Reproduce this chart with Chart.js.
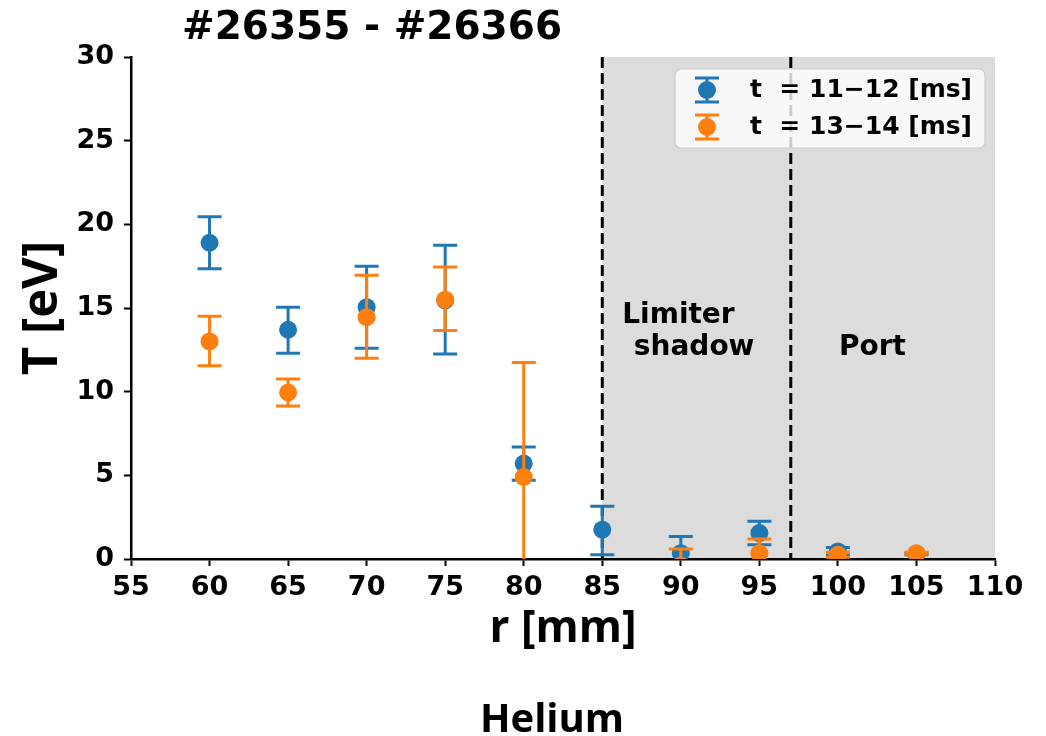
<!DOCTYPE html>
<html>
<head>
<meta charset="utf-8">
<script src="https://cdn.jsdelivr.net/npm/chart.js@4.4.0/dist/chart.umd.min.js"></script>
<style>
    body { margin: 0; background: #fff; }
    #wrap { width: 1046px; height: 736px; position: relative; }
</style>
</head>
<body>
<div id="wrap"><canvas id="chart-area1"></canvas></div>
<script>
// probe positions [mm]
var radius = [60, 65, 70, 75, 80, 85, 90, 95, 100, 105];

// t = 11-12 ms : temperature and error bar bounds [eV]
var tempEarly = [18.9, 13.7, 15.05, 15.45, 5.7, 1.75, 0.35, 1.55, 0.45, 0.3];
var earlyLow  = [17.35, 12.3, 12.6, 12.25, 4.7, 0.25, -0.65, 0.85, 0.22, 0.25];
var earlyHigh = [20.45, 15.05, 17.5, 18.75, 6.7, 3.15, 1.35, 2.25, 0.68, 0.35];

// t = 13-14 ms (no point at 85 mm)
var tempLate = [13.0, 9.95, 14.45, 15.5, 4.9, null, -0.4, 0.35, 0.25, 0.35];
var lateLow  = [11.55, 9.15, 12.0, 13.65, -1.95, null, -1.4, -0.5, 0.1, 0.3];
var lateHigh = [14.5, 10.75, 16.95, 17.45, 11.75, null, 0.6, 1.2, 0.4, 0.4];

var seriesNames = ['t  = 11\u221212 [ms]', 't  = 13\u221214 [ms]'];
var seriesColors = ['#1f77b4', '#ff7f0e'];

var shotTitle = '#26355 - #26366';
var gasName = 'Helium';
var shadowFrom = 85, portFrom = 97, rMax = 110;
var regionText = [
    { text: 'Limiter', r: 89.85, t: 14.55 },
    { text: 'shadow', r: 90.85, t: 12.6 },
    { text: 'Port', r: 102.2, t: 12.6 }
];

function toPoints(r, t, lo, hi) {
    var pts = [];
    for (var i = 0; i < r.length; i++) {
        if (t[i] === null) continue;
        pts.push({ x: r[i], y: t[i], lo: lo[i], hi: hi[i] });
    }
    return pts;
}

var boldFont = 'DejaVu Sans';
var labelFont = 'Open Sans';

// gray shadow/port area + dashed separators, under everything
var regions = {
    id: 'regions',
    beforeDraw: function (chart) {
        var ctx = chart.ctx, a = chart.chartArea;
        var xs = chart.scales.x, ys = chart.scales.y;
        var x0 = xs.getPixelForValue(shadowFrom), x1 = xs.getPixelForValue(rMax);
        ctx.save();
        ctx.fillStyle = '#dcdcdc';
        ctx.fillRect(x0, a.top, x1 - x0, a.bottom - a.top);
        ctx.strokeStyle = '#000';
        ctx.lineWidth = 3;
        ctx.setLineDash([11, 5]);
        [shadowFrom, portFrom].forEach(function (v) {
            var px = xs.getPixelForValue(v);
            ctx.beginPath();
            ctx.moveTo(px, a.top);
            ctx.lineTo(px, a.bottom);
            ctx.stroke();
        });
        ctx.setLineDash([]);
        ctx.fillStyle = '#000';
        ctx.font = 'bold 28px "' + boldFont + '"';
        ctx.textAlign = 'center';
        ctx.textBaseline = 'middle';
        regionText.forEach(function (l) {
            ctx.fillText(l.text, xs.getPixelForValue(l.r), ys.getPixelForValue(l.t));
        });
        ctx.restore();
    }
};

// vertical error bars with caps, drawn just before each dataset's markers
var errorBars = {
    id: 'errorBars',
    beforeDatasetDraw: function (chart, args) {
        var ctx = chart.ctx, a = chart.chartArea;
        var xs = chart.scales.x, ys = chart.scales.y;
        var ds = chart.data.datasets[args.index];
        ctx.save();
        ctx.beginPath();
        ctx.rect(a.left, a.top, a.right - a.left, a.bottom - a.top);
        ctx.clip();
        ctx.strokeStyle = ds.backgroundColor;
        ctx.lineWidth = 3;
        ds.data.forEach(function (p) {
            var px = xs.getPixelForValue(p.x);
            var top = ys.getPixelForValue(p.hi), bot = ys.getPixelForValue(p.lo);
            ctx.beginPath();
            ctx.moveTo(px, top); ctx.lineTo(px, bot);
            ctx.moveTo(px - 12, top); ctx.lineTo(px + 12, top);
            ctx.moveTo(px - 12, bot); ctx.lineTo(px + 12, bot);
            ctx.stroke();
        });
        ctx.restore();
    }
};

// title, legend box and gas label
var overlay = {
    id: 'overlay',
    afterDraw: function (chart) {
        var ctx = chart.ctx, a = chart.chartArea;
        ctx.save();
        ctx.fillStyle = '#000';
        ctx.textBaseline = 'middle';
        ctx.textAlign = 'center';
        ctx.font = 'bold 39px "' + boldFont + '"';
        ctx.fillText(shotTitle, 372, 29);

        ctx.font = 'bold 40px "' + labelFont + '"';
        ctx.textBaseline = 'alphabetic';
        ctx.fillText(gasName, 552, 732);

        // legend
        var bx = a.right - 320, by = a.top + 12, bw = 310, bh = 79;
        ctx.beginPath();
        ctx.roundRect(bx, by, bw, bh, 6);
        ctx.fillStyle = 'rgba(255,255,255,0.8)';
        ctx.fill();
        ctx.strokeStyle = '#cccccc';
        ctx.lineWidth = 1.2;
        ctx.stroke();
        ctx.textAlign = 'left';
        ctx.textBaseline = 'middle';
        ctx.font = 'bold 25px "' + boldFont + '"';
        for (var i = 0; i < seriesNames.length; i++) {
            var cy = by + 21 + i * 37, cx = bx + 32;
            ctx.strokeStyle = seriesColors[i];
            ctx.lineWidth = 3;
            ctx.beginPath();
            ctx.moveTo(cx, cy - 12); ctx.lineTo(cx, cy + 12);
            ctx.moveTo(cx - 12, cy - 12); ctx.lineTo(cx + 12, cy - 12);
            ctx.moveTo(cx - 12, cy + 12); ctx.lineTo(cx + 12, cy + 12);
            ctx.stroke();
            ctx.fillStyle = seriesColors[i];
            ctx.beginPath();
            ctx.arc(cx, cy, 9, 0, Math.PI * 2);
            ctx.fill();
            ctx.fillStyle = '#000';
            ctx.fillText(seriesNames[i], bx + 75, cy);
        }
        ctx.restore();
    }
};

var tickFont = { family: boldFont, size: 27, weight: 'bold' };

var config = {
    type: 'scatter',
    data: {
        datasets: [{
            label: seriesNames[0],
            data: toPoints(radius, tempEarly, earlyLow, earlyHigh),
            backgroundColor: seriesColors[0],
            pointRadius: 9,
            pointBorderWidth: 0,
            clip: 0,
            order: 1
        }, {
            label: seriesNames[1],
            data: toPoints(radius, tempLate, lateLow, lateHigh),
            backgroundColor: seriesColors[1],
            pointRadius: 9,
            pointBorderWidth: 0,
            clip: 0,
            order: 0
        }]
    },
    options: {
        responsive: true,
        maintainAspectRatio: false,
        animation: false,
        events: [],
        layout: { padding: { top: 57, right: 51, bottom: 77, left: 0 } },
        plugins: {
            legend: { display: false },
            title: { display: false },
            tooltip: { enabled: false }
        },
        scales: {
            x: {
                type: 'linear', min: 55, max: 110,
                ticks: { stepSize: 5, color: '#000', font: tickFont, padding: 6, maxRotation: 0, autoSkip: false },
                grid: { drawOnChartArea: false, tickLength: 7, tickWidth: 2, tickColor: '#000' },
                border: { color: '#000', width: 2.5 },
                title: {
                    display: true, text: 'r [mm]', color: '#000',
                    font: { family: labelFont, size: 44, weight: 'bold', lineHeight: 1 },
                    padding: { top: 0, bottom: 8 }
                },
                afterFit: function (s) { s.height = 100; }
            },
            y: {
                min: 0, max: 30,
                ticks: { stepSize: 5, color: '#000', font: tickFont, padding: 10 },
                grid: { drawOnChartArea: false, tickLength: 7, tickWidth: 2, tickColor: '#000' },
                border: { color: '#000', width: 2.5 },
                title: {
                    display: true, text: 'T [eV]', color: '#000',
                    font: { family: labelFont, size: 49, weight: 'bold', lineHeight: 1 },
                    padding: { top: 19, bottom: 0 }
                },
                afterFit: function (s) { s.width = 131; }
            }
        }
    },
    plugins: [regions, errorBars, overlay]
};

var ctx = document.getElementById('chart-area1').getContext('2d');
var myChart = new Chart(ctx, config);
</script>
</body>
</html>
